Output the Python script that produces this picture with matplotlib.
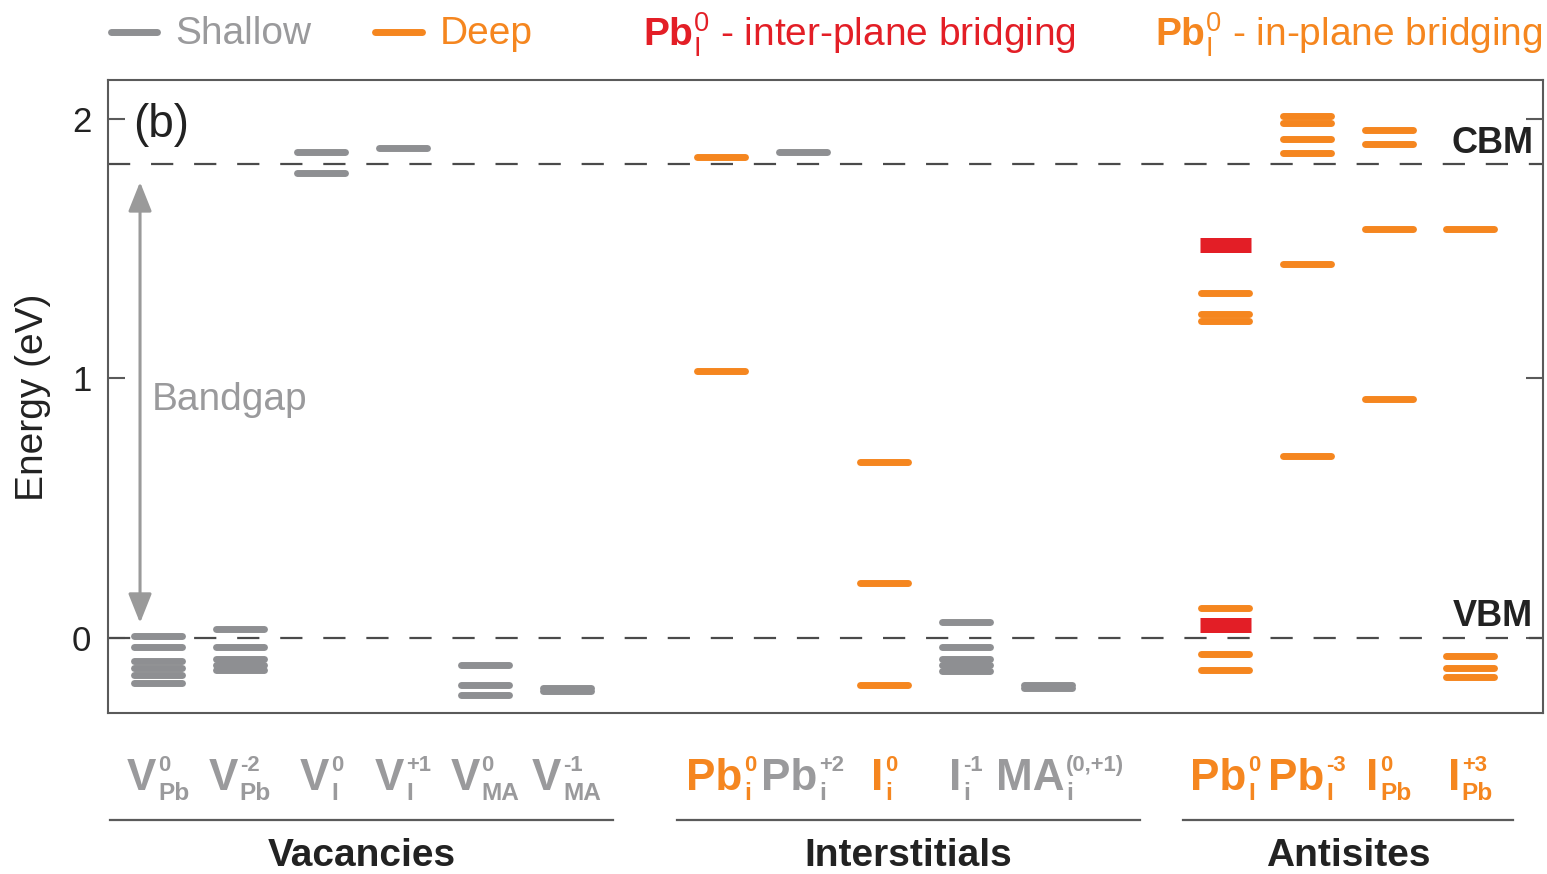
import matplotlib
matplotlib.use("Agg")
import matplotlib.pyplot as plt
from matplotlib import font_manager
from matplotlib.lines import Line2D
from matplotlib.transforms import blended_transform_factory, offset_copy

# ---------------------------------------------------------------- data
# Defect levels (eV, relative to the VBM), one list per defect
v_pb_0 = [0.008, -0.035, -0.089, -0.116, -0.143, -0.173]
v_pb_m2 = [0.035, -0.033, -0.082, -0.104, -0.123]
v_i_0 = [1.874, 1.793]
v_i_p1 = [1.889]
v_ma_0 = [-0.104, -0.181, -0.220]
v_ma_m1 = [-0.193, -0.203]
pb_i_0 = [1.855, 1.029]
pb_i_p2 = [1.874]
i_i_0 = [0.678, 0.213, -0.181]
i_i_m1 = [0.063, -0.033, -0.081, -0.104, -0.127]
ma_i = [-0.182, -0.194]
pb_I_0_inplane = [1.331, 1.249, 1.222, 0.117, -0.062, -0.123]
pb_I_0_interplane = [1.514, 0.050]
pb_I_m3 = [2.012, 1.986, 1.922, 1.870, 1.440, 0.703]
i_pb_0 = [1.958, 1.904, 1.575, 0.921]
i_pb_p3 = [1.575, -0.069, -0.117, -0.151]

cbm = 1.827
vbm = 0.0

# Axis labels: (main symbol, superscript, subscript, level type)
vacancy_labels = [("V", "0", "Pb", "shallow"), ("V", "-2", "Pb", "shallow"),
                  ("V", "0", "I", "shallow"), ("V", "+1", "I", "shallow"),
                  ("V", "0", "MA", "shallow"), ("V", "-1", "MA", "shallow")]
interstitial_labels = [("Pb", "0", "i", "deep"), ("Pb", "+2", "i", "shallow"),
                       ("I", "0", "i", "deep"), ("I", "-1", "i", "shallow"),
                       ("MA", "(0,+1)", "i", "shallow")]
antisite_labels = [("Pb", "0", "I", "deep"), ("Pb", "-3", "I", "deep"),
                   ("I", "0", "Pb", "deep"), ("I", "+3", "Pb", "deep")]
group_names = ["Vacancies", "Interstitials", "Antisites"]

vacancy_levels = [v_pb_0, v_pb_m2, v_i_0, v_i_p1, v_ma_0, v_ma_m1]
interstitial_levels = [pb_i_0, pb_i_p2, i_i_0, i_i_m1, ma_i]
antisite_levels = [pb_I_0_inplane, pb_I_m3, i_pb_0, i_pb_p3]

# ---------------------------------------------------------------- style
GRAY_BAR = "#8e8f92"
GRAY_TEXT = "#9a9a9c"
ORANGE = "#f5861f"
RED = "#e31e26"
FRAME = "#5a5a5a"

names = {f.name for f in font_manager.fontManager.ttflist}
SANS = "Liberation Sans" if "Liberation Sans" in names else "DejaVu Sans"
if "Liberation Sans Narrow" in names:
    LABEL_FONT, LABEL_SCALE = "Liberation Sans Narrow", 1.0
else:
    LABEL_FONT, LABEL_SCALE = SANS, 0.88
plt.rcParams["font.family"] = [SANS, "DejaVu Sans"]
plt.rcParams["mathtext.fontset"] = "custom"
plt.rcParams["mathtext.rm"] = SANS
plt.rcParams["mathtext.it"] = SANS
plt.rcParams["mathtext.bf"] = SANS + ":bold"
plt.rcParams["lines.scale_dashes"] = False

W, H = 1547, 874
fig = plt.figure(figsize=(W / 100, H / 100), dpi=100)
ax = fig.add_axes([108 / W, 1 - 713 / H, (1543 - 108) / W, (713 - 80) / H])

ax.set_xlim(-0.612, 16.95)
ax.set_ylim(-0.289, 2.15)

group_starts = [0.0, 6.89, 13.06]
half = 0.294
lw_bar = 5.0

def draw_levels(x, levels, color):
    for e in levels:
        ax.plot([x - half, x + half], [e, e], color=color, lw=lw_bar,
                solid_capstyle="round", zorder=3)

kind_color = {"shallow": GRAY_BAR, "deep": ORANGE}
kind_text = {"shallow": GRAY_TEXT, "deep": ORANGE}

groups = [(vacancy_labels, vacancy_levels),
          (interstitial_labels, interstitial_levels),
          (antisite_labels, antisite_levels)]

column_x = []
for start, (labels, levels) in zip(group_starts, groups):
    xs = [start + k for k in range(len(labels))]
    column_x.append(xs)
    for x, lab, lev in zip(xs, labels, levels):
        draw_levels(x, lev, kind_color[lab[3]])

# inter-plane bridging levels of the Pb_I antisite
x_pbI = column_x[2][0]
for e in pb_I_0_interplane:
    ax.plot([x_pbI - 0.312, x_pbI + 0.312], [e, e], color=RED, lw=10.8,
            solid_capstyle="butt", zorder=4)

# band edges
for e in (cbm, vbm):
    ax.axhline(e, color="#4a4a4a", lw=1.6, dashes=(16, 15), zorder=2)

ax.text(16.83, 1.907, "CBM", ha="right", va="center", fontsize=26,
        fontweight="bold", color="#222222")
ax.text(16.83, 0.081, "VBM", ha="right", va="center", fontsize=26,
        fontweight="bold", color="#222222")

# band gap arrow
ax.annotate("", xy=(-0.22, 0.058), xytext=(-0.22, 1.757),
            arrowprops=dict(arrowstyle="<|-|>,head_length=0.9,head_width=0.36",
                            mutation_scale=20, lw=2.2, color="#9a9a9a",
                            shrinkA=0, shrinkB=0))
ax.text(-0.073, 0.917, "Bandgap", ha="left", va="center", fontsize=28,
        color=GRAY_TEXT)
ax.text(-0.31, 1.977, "(b)", ha="left", va="center", fontsize=33,
        color="#222222")

# axes frame and ticks
for s in ax.spines.values():
    s.set_color(FRAME)
    s.set_linewidth(1.5)
ax.set_xticks([])
ax.set_yticks([0, 1, 2])
ax.tick_params(axis="y", direction="in", length=12, width=1.5, color=FRAME,
               right=True, labelsize=25, pad=12, labelcolor="#222222")
fig.text(33 / W, 1 - 397 / H, "Energy (eV)", rotation=90, ha="center",
         va="center", fontsize=28, color="#222222")

# column labels with stacked super/subscripts
renderer = fig.canvas.get_renderer()
lab_trans = blended_transform_factory(ax.transData, fig.transFigure)
base_y = 1 - 790 / H
label_shift = {"MA": 12}

def script_label(x, main, sup, sub, color):
    kw = dict(transform=lab_trans, ha="left", va="baseline", color=color,
              fontweight="bold", family=[LABEL_FONT, "DejaVu Sans"])
    t_main = ax.text(x, base_y, main, fontsize=36 * LABEL_SCALE, **kw)
    t_sup = ax.text(x, base_y, sup, fontsize=18 * LABEL_SCALE, **kw)
    t_sub = ax.text(x, base_y, sub, fontsize=20 * LABEL_SCALE, **kw)
    for t in (t_main, t_sup, t_sub):
        t.set_clip_on(False)
    w_main = t_main.get_window_extent(renderer).width
    w_scr = max(t_sup.get_window_extent(renderer).width,
                t_sub.get_window_extent(renderer).width)
    gap = 2
    shift = -(w_main + gap + w_scr) / 2 + label_shift.get(main, 0)
    t_main.set_transform(offset_copy(lab_trans, fig=fig, x=shift, y=0,
                                     units="dots"))
    t_sup.set_transform(offset_copy(lab_trans, fig=fig, x=shift + w_main + gap,
                                    y=19, units="dots"))
    t_sub.set_transform(offset_copy(lab_trans, fig=fig, x=shift + w_main + gap,
                                    y=-10, units="dots"))

for xs, (labels, _) in zip(column_x, groups):
    for x, (main, sup, sub, kind) in zip(xs, labels):
        script_label(x, main, sup, sub, kind_text[kind])

# group brackets
line_y = 1 - 820 / H
bracket_px = [(110, 613), (677, 1140), (1183, 1513)]
name_px = [362, 908, 1348]
for (x0, x1), xc, name in zip(bracket_px, name_px, group_names):
    fig.add_artist(Line2D([x0 / W, x1 / W], [line_y, line_y], color=FRAME,
                          lw=1.6))
    fig.text(xc / W, 1 - 856 / H, name, ha="center", va="center",
             fontsize=28, fontweight="bold", color="#222222")

# legend row
leg_y = 1 - 32 / H
fig.add_artist(Line2D([111 / W, 157 / W], [leg_y, leg_y], color=GRAY_BAR,
                      lw=5, solid_capstyle="round"))
fig.text(175 / W, 1 - 34 / H, "Shallow", ha="left", va="center", fontsize=28,
         color=GRAY_TEXT)
fig.add_artist(Line2D([375 / W, 422 / W], [leg_y, leg_y], color=ORANGE,
                      lw=5, solid_capstyle="round"))
fig.text(440 / W, 1 - 34 / H, "Deep", ha="left", va="center", fontsize=28,
         color=ORANGE)
fig.text(643 / W, 1 - 46 / H, r"$\mathbf{Pb}_{\mathrm{I}}^{0}$ - inter-plane bridging",
         ha="left", va="baseline", fontsize=28, color=RED)
fig.text(1155 / W, 1 - 46 / H, r"$\mathbf{Pb}_{\mathrm{I}}^{0}$ - in-plane bridging",
         ha="left", va="baseline", fontsize=28, color=ORANGE)

fig.savefig("out.png", dpi=100)
